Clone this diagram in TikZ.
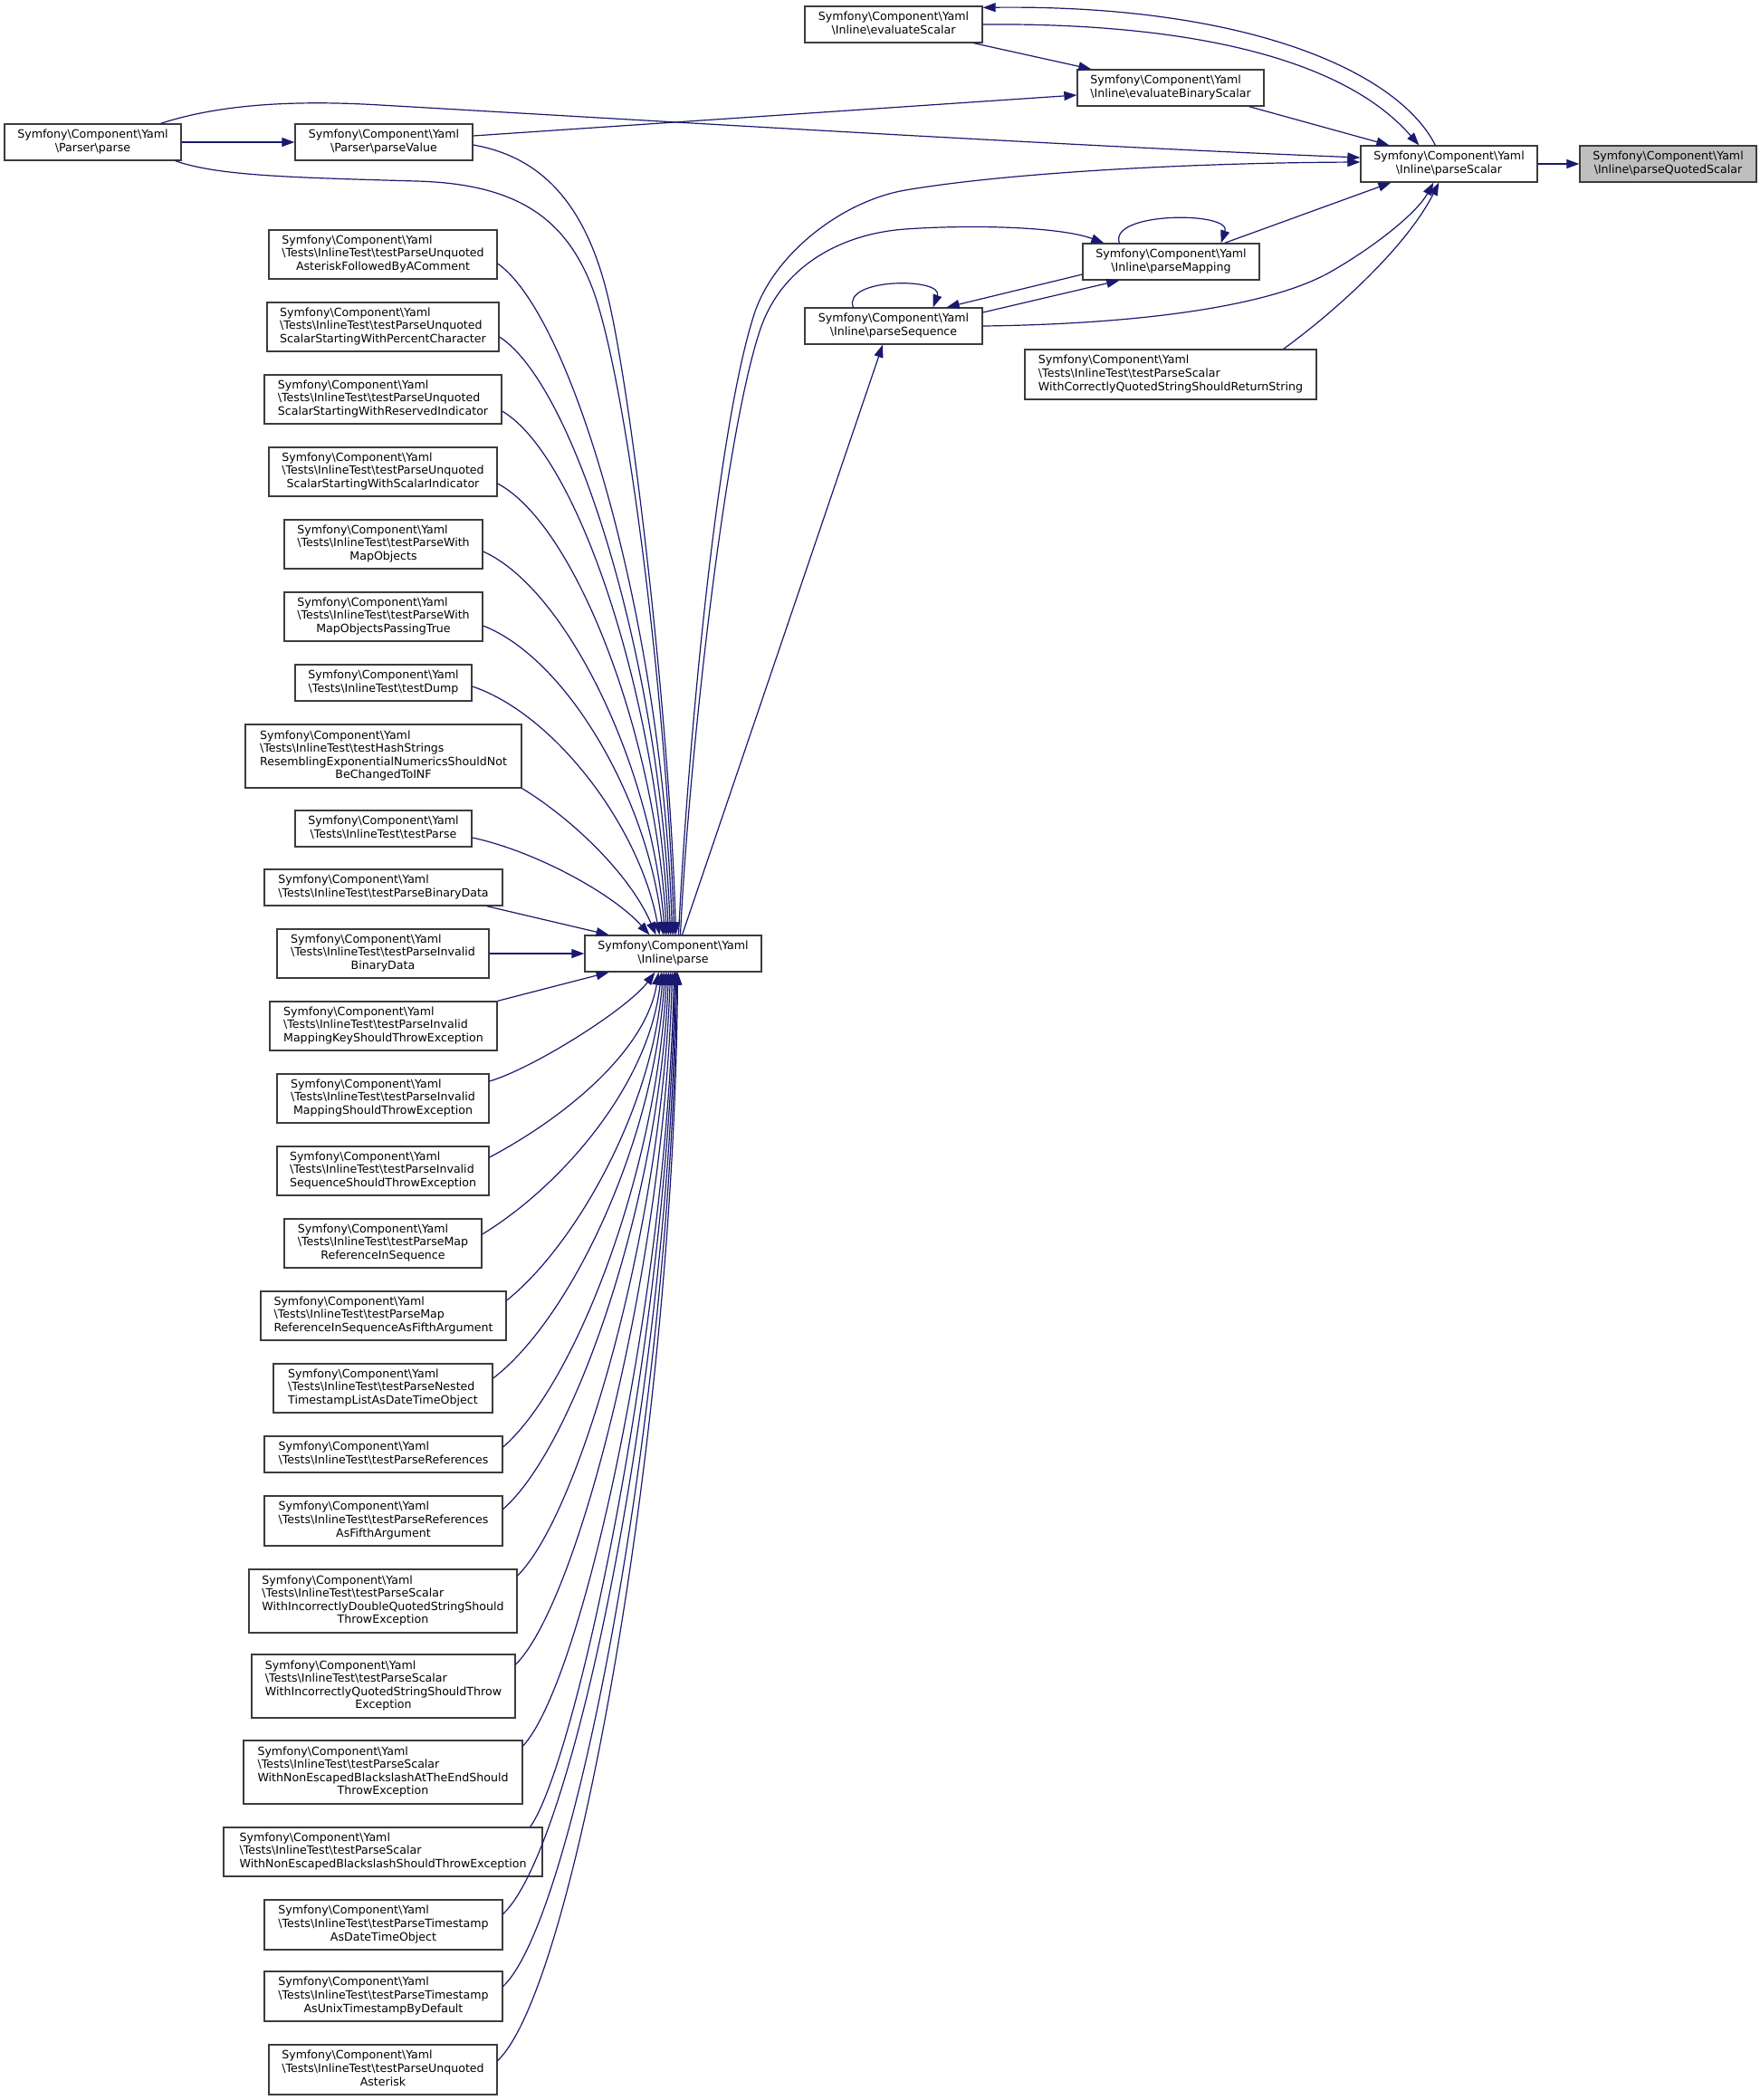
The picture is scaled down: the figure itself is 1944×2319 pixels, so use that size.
\documentclass[tikz,border=0pt]{standalone}
\usepackage{fontspec}
\setmainfont{DejaVu Sans}
\usetikzlibrary{arrows.meta}
\definecolor{edgec}{RGB}{25,25,112}
\definecolor{boxc}{RGB}{60,60,60}
\definecolor{hlc}{RGB}{191,191,191}
\newcommand\lft[1]{\multicolumn{1}{@{}l@{}}{#1}}
\newcommand\SCY{Symfony\textbackslash Component\textbackslash Yaml}
\newcommand\ITs{\textbackslash Tests\textbackslash InlineTest\textbackslash }
\newcommand\INl{\textbackslash Inline\textbackslash }
\newcommand\PRs{\textbackslash Parser\textbackslash }
\newcommand\Ltwo[2]{\begin{tabular}{@{}c@{}}\lft{#1}\\#2\end{tabular}}
\newcommand\Lthree[3]{\begin{tabular}{@{}c@{}}\lft{#1}\\\lft{#2}\\#3\end{tabular}}
\newcommand\Lfour[4]{\begin{tabular}{@{}c@{}}\lft{#1}\\\lft{#2}\\\lft{#3}\\#4\end{tabular}}
\newcommand\bx[7][]{\node[box,#1,minimum width={(#5-#3)*1pt},minimum height={(#6-#4)*1pt}] (#2) at ({(#3+#5)/2},{(#4+#6)/2}) {#7};}
\begin{document}
\begin{tikzpicture}[x=1pt,y=-1pt,
  box/.style={draw=boxc,line width=1.3pt,fill=white,inner sep=0pt,text=black,font=\fontsize{12.6}{14.6}\selectfont},
  e/.style={draw=edgec,line width=1.2pt,-{Triangle[length=14pt,width=10pt]}}]
\fill[white] (0,0) rectangle (1944,2319);
\useasboundingbox (0,0) rectangle (1944,2319);
% ---- top nodes
\bx[fill=hlc]{pqs}{1745}{161}{1940}{201}{\Ltwo{\SCY}{\INl parseQuotedScalar}}
\bx{ps}{1503}{161}{1698}{201}{\Ltwo{\SCY}{\INl parseScalar}}
\bx{es}{889}{7}{1085}{47}{\Ltwo{\SCY}{\INl evaluateScalar}}
\bx{ebs}{1190}{77}{1396}{117}{\Ltwo{\SCY}{\INl evaluateBinaryScalar}}
\bx{pm}{1196}{269}{1391}{309}{\Ltwo{\SCY}{\INl parseMapping}}
\bx{pseq}{889}{340}{1085}{380}{\Ltwo{\SCY}{\INl parseSequence}}
\bx{tpsc}{1132}{386}{1454}{441}{\Lthree{\SCY}{\ITs testParseScalar}{WithCorrectlyQuotedStringShouldReturnString}}
\bx{pp}{5}{137}{200}{177}{\Ltwo{\SCY}{\PRs parse}}
\bx{pv}{326}{137}{522}{177}{\Ltwo{\SCY}{\PRs parseValue}}
\bx{ip}{646}{1033}{841}{1073}{\Ltwo{\SCY}{\INl parse}}
% ---- test column
\bx{t1}{297}{254}{549}{308}{\Lthree{\SCY}{\ITs testParseUnquoted}{AsteriskFollowedByAComment}}
\bx{t2}{295}{334}{551}{388}{\Lthree{\SCY}{\ITs testParseUnquoted}{ScalarStartingWithPercentCharacter}}
\bx{t3}{292}{414}{554}{468}{\Lthree{\SCY}{\ITs testParseUnquoted}{ScalarStartingWithReservedIndicator}}
\bx{t4}{297}{494}{549}{548}{\Lthree{\SCY}{\ITs testParseUnquoted}{ScalarStartingWithScalarIndicator}}
\bx{t5}{314}{574}{533}{628}{\Lthree{\SCY}{\ITs testParseWith}{MapObjects}}
\bx{t6}{314}{654}{533}{708}{\Lthree{\SCY}{\ITs testParseWith}{MapObjectsPassingTrue}}
\bx{t7}{326}{734}{521}{774}{\Ltwo{\SCY}{\ITs testDump}}
\bx{t8}{271}{800}{576}{870}{\Lfour{\SCY}{\ITs testHashStrings}{ResemblingExponentialNumericsShouldNot}{BeChangedToINF}}
\bx{t9}{326}{895}{521}{935}{\Ltwo{\SCY}{\ITs testParse}}
\bx{t10}{292}{960}{555}{1000}{\Ltwo{\SCY}{\ITs testParseBinaryData}}
\bx{t11}{306}{1026}{540}{1080}{\Lthree{\SCY}{\ITs testParseInvalid}{BinaryData}}
\bx{t12}{298}{1106}{549}{1160}{\Lthree{\SCY}{\ITs testParseInvalid}{MappingKeyShouldThrowException}}
\bx{t13}{306}{1186}{540}{1240}{\Lthree{\SCY}{\ITs testParseInvalid}{MappingShouldThrowException}}
\bx{t14}{306}{1266}{540}{1320}{\Lthree{\SCY}{\ITs testParseInvalid}{SequenceShouldThrowException}}
\bx{t15}{314}{1346}{532}{1400}{\Lthree{\SCY}{\ITs testParseMap}{ReferenceInSequence}}
\bx{t16}{288}{1426}{559}{1480}{\Lthree{\SCY}{\ITs testParseMap}{ReferenceInSequenceAsFifthArgument}}
\bx{t17}{302}{1506}{544}{1560}{\Lthree{\SCY}{\ITs testParseNested}{TimestampListAsDateTimeObject}}
\bx{t18}{292}{1586}{555}{1626}{\Ltwo{\SCY}{\ITs testParseReferences}}
\bx{t19}{292}{1652}{555}{1707}{\Lthree{\SCY}{\ITs testParseReferences}{AsFifthArgument}}
\bx{t20}{275}{1733}{571}{1803}{\Lfour{\SCY}{\ITs testParseScalar}{WithIncorrectlyDoubleQuotedStringShould}{ThrowException}}
\bx{t21}{278}{1827}{569}{1897}{\Lfour{\SCY}{\ITs testParseScalar}{WithIncorrectlyQuotedStringShouldThrow}{Exception}}
\bx{t22}{269}{1922}{577}{1992}{\Lfour{\SCY}{\ITs testParseScalar}{WithNonEscapedBlackslashAtTheEndShould}{ThrowException}}
\bx{t23}{247}{2018}{599}{2072}{\Lthree{\SCY}{\ITs testParseScalar}{WithNonEscapedBlackslashShouldThrowException}}
\bx{t24}{292}{2098}{555}{2153}{\Lthree{\SCY}{\ITs testParseTimestamp}{AsDateTimeObject}}
\bx{t25}{292}{2177}{555}{2232}{\Lthree{\SCY}{\ITs testParseTimestamp}{AsUnixTimestampByDefault}}
\bx{t26}{297}{2258}{549}{2313}{\Lthree{\SCY}{\ITs testParseUnquoted}{Asterisk}}
% ---- top edges
\draw[e] (ps.east) -- (pqs.west);
\draw[e] ([shift={(83,0)}]ps.north west) .. controls (1545,80) and (1380,5) .. ([shift={(0,2)}]es.north east);
\draw[e] (es.east) .. controls (1300,25) and (1480,60) .. ([shift={(65,0)}]ps.north west);
\draw[e] ([shift={(-10,0)}]es.south east) -- ([shift={(16,0)}]ebs.north west);
\draw[e] ([shift={(-17,0)}]ebs.south east) -- ([shift={(32,0)}]ps.north west);
\draw[e] ([shift={(0,-7)}]pv.east) -- ([shift={(0,8)}]ebs.west);
\draw[e] (pp.east) -- (pv.west);
\draw[e] ([shift={(75,0)}]pp.north) .. controls (240,116) and (320,110) .. (420,116) .. controls (800,138) and (1200,162) .. ([shift={(0,-7)}]ps.west);
\draw[e] ([shift={(-7,0)}]pp.south east) .. controls (240,194) and (320,196) .. (460,200) .. controls (570,203) and (625,240) .. (655,320) .. controls (695,430) and (738,800) .. ([shift={(1,0)}]ip.north);
\draw[e] ([shift={(0,3)}]pv.east) .. controls (590,172) and (645,215) .. (672,330) .. controls (699,445) and (740,800) .. ([shift={(3,0)}]ip.north);
\draw[e] ([shift={(6,0)}]ip.north) .. controls (758,850) and (790,480) .. (833,347) .. controls (854.5,280.5) and (930,222) .. (1000,210) .. controls (1105,192) and (1300,180) .. ([shift={(0,-2)}]ps.west);
\draw[e] ([shift={(8,0)}]ip.north) .. controls (760,850) and (800,480) .. (840,363) .. controls (864,293) and (930,258) .. (1000,253) .. controls (1070,248) and (1170,250) .. ([shift={(24,0)}]pm.north west);
\draw[e] ([shift={(10,0)}]ip.north) -- ([shift={(-12,0)}]pseq.south);
\draw[e] ([shift={(41,0)}]pm.north west) .. controls +(-12,-35) and +(12,-35) .. ([shift={(-43,0)}]pm.north east);
\draw[e] ([shift={(54,0)}]pseq.north west) .. controls +(-12,-33) and +(12,-33) .. ([shift={(-55,0)}]pseq.north east);
\draw[e] ([shift={(0,14)}]pm.west) -- ([shift={(-40,0)}]pseq.north east);
\draw[e] ([shift={(0,-15)}]pseq.east) -- ([shift={(41,0)}]pm.south west);
\draw[e] (pseq.east) .. controls (1250,358) and (1400,340) .. (1470,300) .. controls (1519,272) and (1565,235) .. ([shift={(81,0)}]ps.south west);
\draw[e] ([shift={(-39,0)}]pm.north east) -- ([shift={(34,0)}]ps.south west);
\draw[e] ([shift={(-37,0)}]tpsc.north east) .. controls (1480,340) and (1555,270) .. ([shift={(87,0)}]ps.south west);
% ---- tests to Inline parse (above)
\draw[e] ([shift={(0,10)}]t1.east) .. controls +(85,60) and +(-10,-334) .. ([shift={(-1,0)}]ip.north);
\draw[e] ([shift={(0,11)}]t2.east) .. controls +(85,55) and +(-11,-297) .. ([shift={(-3,0)}]ip.north);
\draw[e] ([shift={(0,13)}]t3.east) .. controls +(85,50) and +(-12,-260) .. ([shift={(-5,0)}]ip.north);
\draw[e] ([shift={(0,13)}]t4.east) .. controls +(85,45) and +(-13,-225) .. ([shift={(-7,0)}]ip.north);
\draw[e] ([shift={(0,8)}]t5.east) .. controls +(90,40) and +(-15,-190) .. ([shift={(-9,0)}]ip.north);
\draw[e] ([shift={(0,10)}]t6.east) .. controls +(90,35) and +(-18,-155) .. ([shift={(-11,0)}]ip.north);
\draw[e] ([shift={(0,4)}]t7.east) .. controls +(90,30) and +(-22,-120) .. ([shift={(-15,0)}]ip.north);
\draw[e] (t8.south east) .. controls +(50,30) and +(-30,-70) .. ([shift={(-19,0)}]ip.north);
\draw[e] ([shift={(0,10)}]t9.east) .. controls +(70,15) and +(-40,-45) .. ([shift={(-26,0)}]ip.north);
\draw[e] ([shift={(-18,0)}]t10.south east) -- ([shift={(-71,0)}]ip.north);
\draw[e] (t11.east) -- (ip.west);
% ---- tests to Inline parse (below)
\draw[e] (t12.north east) -- ([shift={(-71,0)}]ip.south);
\draw[e] ([shift={(0,-19)}]t13.east) .. controls +(50,-15) and +(-30,40) .. ([shift={(-20,0)}]ip.south);
\draw[e] ([shift={(0,-15)}]t14.east) .. controls +(85,-45) and +(-14,86) .. ([shift={(-16,0)}]ip.south);
\draw[e] ([shift={(0,-10)}]t15.east) .. controls +(90,-55) and +(-13,122) .. ([shift={(-13,0)}]ip.south);
\draw[e] ([shift={(0,-17)}]t16.east) .. controls +(75,-60) and +(-12,152) .. ([shift={(-11,0)}]ip.south);
\draw[e] ([shift={(0,-11)}]t17.east) .. controls +(85,-65) and +(-12,189) .. ([shift={(-9,0)}]ip.south);
\draw[e] ([shift={(0,-8)}]t18.east) .. controls +(80,-70) and +(-11,220) .. ([shift={(-7,0)}]ip.south);
\draw[e] ([shift={(0,-13)}]t19.east) .. controls +(80,-70) and +(-10,249) .. ([shift={(-5,0)}]ip.south);
\draw[e] ([shift={(0,-28)}]t20.east) .. controls +(70,-70) and +(-10,280) .. ([shift={(-3,0)}]ip.south);
\draw[e] ([shift={(0,-24)}]t21.east) .. controls +(70,-70) and +(-9,321) .. ([shift={(-1,0)}]ip.south);
\draw[e] ([shift={(0,-29)}]t22.east) .. controls +(65,-70) and +(-8,359) .. ([shift={(1,0)}]ip.south);
\draw[e] ([shift={(-14,0)}]t23.north east) .. controls +(50,-70) and +(-7,397) .. ([shift={(2,0)}]ip.south);
\draw[e] ([shift={(0,-12)}]t24.east) .. controls +(80,-75) and +(-6,437) .. ([shift={(3,0)}]ip.south);
\draw[e] ([shift={(0,-11)}]t25.east) .. controls +(80,-75) and +(-5,470) .. ([shift={(4,0)}]ip.south);
\draw[e] ([shift={(0,-10)}]t26.east) .. controls +(85,-80) and +(-4,505) .. ([shift={(5,0)}]ip.south);
\end{tikzpicture}
\end{document}
